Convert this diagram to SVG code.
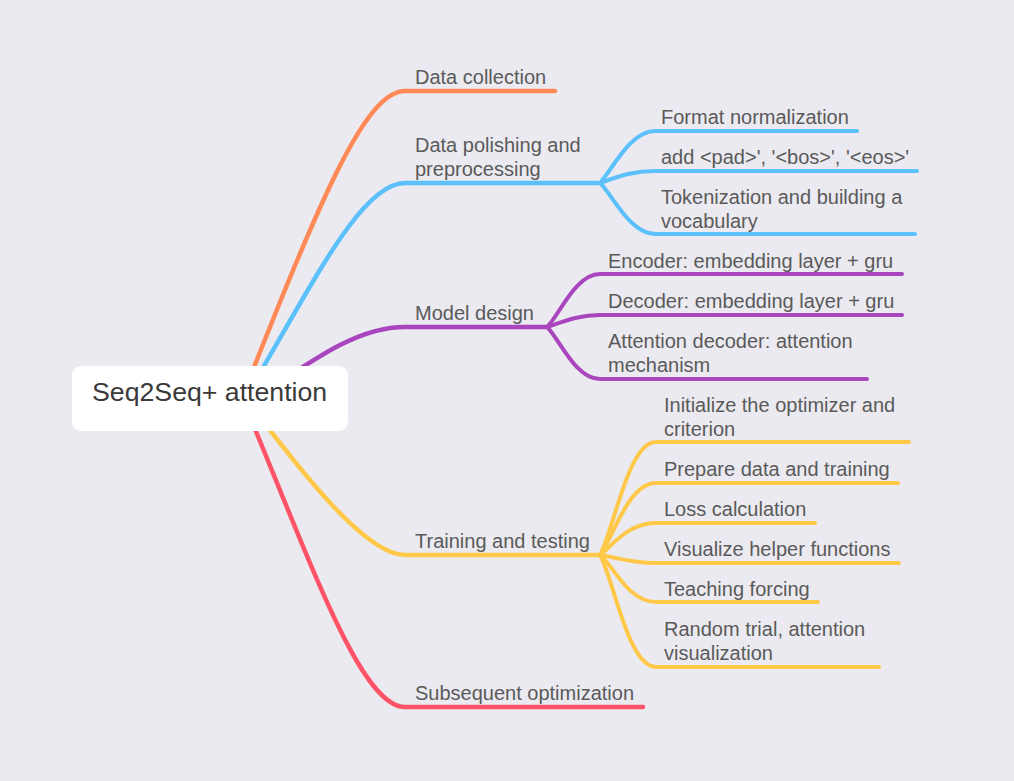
<svg xmlns="http://www.w3.org/2000/svg" width="1014" height="781" viewBox="0 0 1014 781">
<style>
.bg{fill:#EBEAF0}
.t{font-family:"Liberation Sans",Arial,sans-serif;font-size:20px;fill:#5a5a5a}
.root{font-family:"Liberation Sans",Arial,sans-serif;font-size:26.7px;fill:#3a3a3a}
.l{fill:none;stroke-linecap:round;stroke-linejoin:round}
.m{stroke-width:4.5}
.s{stroke-width:4}
.o{stroke:#FF8A58}
.b{stroke:#5CC0FB}
.p{stroke:#A946BE}
.y{stroke:#FFC848}
.r{stroke:#FF5467}
</style>
<rect class="bg" x="0" y="0" width="1014" height="781"/>
<g id="connectors">
<path class="l m o" d="M243,395 C320,200 365,91 405,91 L555,91"/>
<path class="l m b" d="M245,398 C310,290 360,183 405,183 L598,183"/>
<path class="l m p" d="M260,395 C320,355 360,327 405,327 L547,327"/>
<path class="l m y" d="M245,398 C300,470 365,555 405,555 L600,555"/>
<path class="l m r" d="M243,400 C310,560 360,707 405,707 L643,707"/>
<path class="l s b" d="M600,183 C612,170 630,131 655,131 L857,131"/>
<path class="l s b" d="M600,183 C615,178 630,171 655,171 L917,171"/>
<path class="l s b" d="M600,183 C612,194 630,234 655,234 L915,234"/>
<path class="l s p" d="M547,327 C559,316 575,274 600,274 L902,274"/>
<path class="l s p" d="M547,327 C560,323 577,315 600,315 L902,315"/>
<path class="l s p" d="M547,327 C559,338 575,379 600,379 L867,379"/>
<path class="l s y" d="M600,555 C614,530 628,442 656,442 L909,442"/>
<path class="l s y" d="M600,555 C613,538 628,483 656,483 L898,483"/>
<path class="l s y" d="M600,555 C613,545 628,523 656,523 L815,523"/>
<path class="l s y" d="M600,555 C615,557 630,563 656,563 L899,563"/>
<path class="l s y" d="M600,555 C613,565 628,602 656,602 L818,602"/>
<path class="l s y" d="M600,555 C614,580 628,667 656,667 L879,667"/>
</g>
<g id="root">
<rect x="72" y="366" width="276" height="65" rx="9" fill="#FFFFFF"/>
<text class="root" x="92" y="401">Seq2Seq+ attention</text>
</g>
<g id="data-collection"><text class="t" x="415" y="84">Data collection</text></g>
<g id="data-polishing"><text class="t" x="415" y="152">Data polishing and</text><text class="t" x="415" y="176">preprocessing</text></g>
<g id="format-normalization"><text class="t" x="661" y="124">Format normalization</text></g>
<g id="add-tokens"><text class="t" x="661" y="164">add &lt;pad&gt;', '&lt;bos&gt;', '&lt;eos&gt;'</text></g>
<g id="tokenization"><text class="t" x="661" y="204">Tokenization and building a</text><text class="t" x="661" y="228">vocabulary</text></g>
<g id="model-design"><text class="t" x="415" y="320">Model design</text></g>
<g id="encoder"><text class="t" x="608" y="268">Encoder: embedding layer + gru</text></g>
<g id="decoder"><text class="t" x="608" y="308">Decoder: embedding layer + gru</text></g>
<g id="attention-decoder"><text class="t" x="608" y="348">Attention decoder: attention</text><text class="t" x="608" y="372">mechanism</text></g>
<g id="training"><text class="t" x="415" y="548">Training and testing</text></g>
<g id="initialize"><text class="t" x="664" y="412">Initialize the optimizer and</text><text class="t" x="664" y="436">criterion</text></g>
<g id="prepare"><text class="t" x="664" y="476">Prepare data and training</text></g>
<g id="loss"><text class="t" x="664" y="516">Loss calculation</text></g>
<g id="visualize"><text class="t" x="664" y="556">Visualize helper functions</text></g>
<g id="teaching"><text class="t" x="664" y="596">Teaching forcing</text></g>
<g id="random-trial"><text class="t" x="664" y="636">Random trial, attention</text><text class="t" x="664" y="660">visualization</text></g>
<g id="subsequent"><text class="t" x="415" y="700">Subsequent optimization</text></g>
</svg>
